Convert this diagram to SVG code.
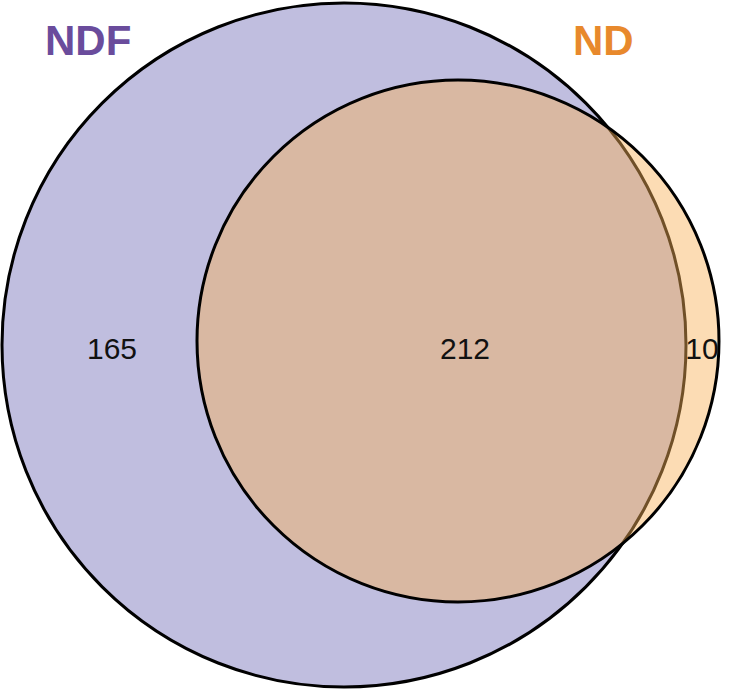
<svg xmlns="http://www.w3.org/2000/svg" width="743" height="690" viewBox="0 0 743 690">
<style>
.set{stroke:#000;stroke-width:3}
.lbl{font-family:"Liberation Sans",Arial,sans-serif;font-weight:bold;font-size:42px}
.num{font-family:"Liberation Sans",Arial,sans-serif;font-size:30px;fill:#111;text-anchor:middle}
</style>
<rect width="743" height="690" fill="#fff"/>
<g id="NDF">
<circle class="set" cx="344" cy="345" r="342" fill="#c0bedf"/>
</g>
<g id="ND">
<circle cx="458" cy="341" r="261" fill="rgb(248,178,88)" fill-opacity="0.45"/>
<circle class="set" cx="458" cy="341" r="261" fill="none"/>
</g>
<g id="labels">
<text class="lbl" x="45" y="55" fill="#6a4c9c">NDF</text>
<text class="lbl" x="573" y="55" fill="#e8892c">ND</text>
<text class="num" x="112" y="359">165</text>
<text class="num" x="465" y="359">212</text>
<text class="num" x="702" y="359">10</text>
</g>
</svg>
